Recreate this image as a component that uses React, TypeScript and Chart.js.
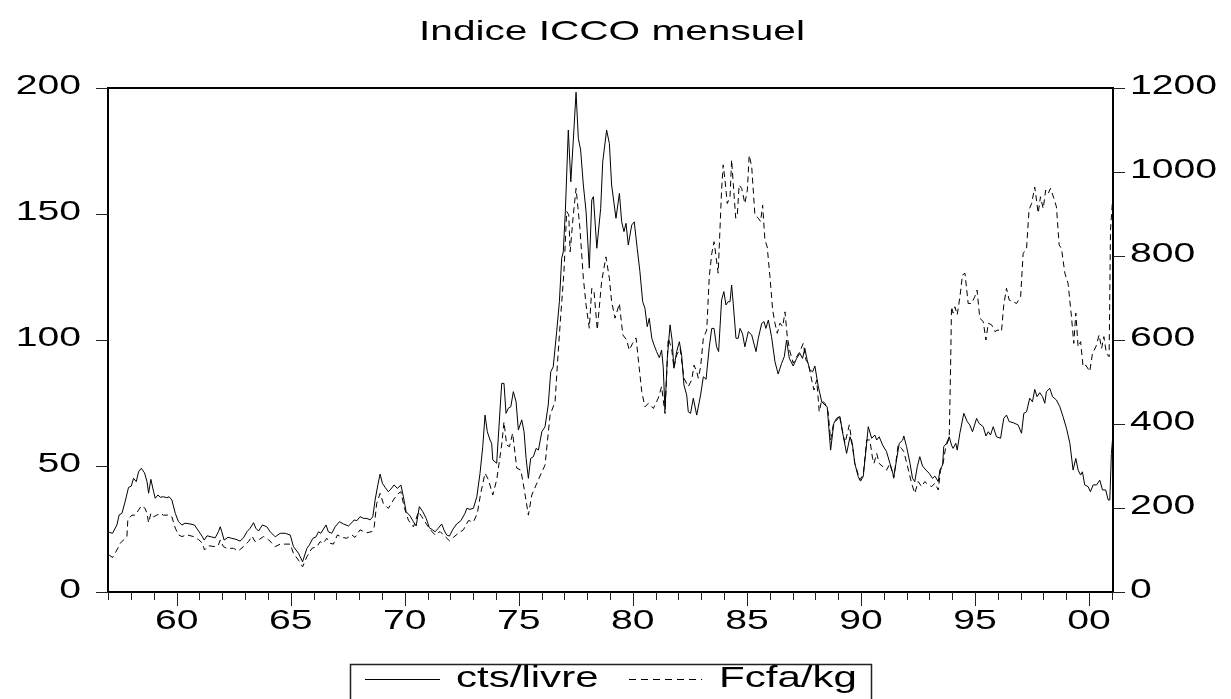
import React, { useEffect, useRef } from "react";
import { Chart, registerables } from "chart.js";

Chart.register(...registerables);

const chartTitle = "Indice ICCO mensuel";
const seriesNames = ["cts/livre", "Fcfa/kg"];

const leftTicks = [0, 50, 100, 150, 200];
const rightTicks = [0, 200, 400, 600, 800, 1000, 1200];
const majorYears = [1960, 1965, 1970, 1975, 1980, 1985, 1990, 1995, 2000];
const majorYearLabels = ["60", "65", "70", "75", "80", "85", "90", "95", "00"];
const firstYear = 1957;
const lastYear = 2001;

const ctsYears = [
  1957.04, 1957.19, 1957.38, 1957.48, 1957.6, 1957.74, 1957.89, 1958.01, 1958.11, 1958.23, 1958.33, 1958.45, 1958.59, 1958.7, 1958.77, 1958.87, 1958.99,
  1959.06, 1959.18, 1959.28, 1959.42, 1959.57, 1959.67, 1959.79, 1959.94, 1960.08, 1960.23, 1960.37, 1960.59, 1960.78, 1960.93, 1961.11, 1961.21,
  1961.33, 1961.51, 1961.69, 1961.83, 1961.91, 1961.98, 1962.08, 1962.25, 1962.42, 1962.6, 1962.78, 1962.93, 1963.08, 1963.22, 1963.37, 1963.47,
  1963.59, 1963.76, 1963.95, 1964.1, 1964.32, 1964.54, 1964.76, 1964.98, 1965.12, 1965.34, 1965.52, 1965.71, 1965.82, 1965.97, 1966.11, 1966.22,
  1966.32, 1966.41, 1966.55, 1966.65, 1966.8, 1966.95, 1967.14, 1967.31, 1967.53, 1967.68, 1967.78, 1967.9, 1968.04, 1968.19, 1968.34, 1968.48,
  1968.6, 1968.7, 1968.82, 1968.92, 1969.02, 1969.14, 1969.28, 1969.39, 1969.53, 1969.68, 1969.83, 1969.94, 1970.06, 1970.23, 1970.38, 1970.5,
  1970.64, 1970.79, 1970.94, 1971.08, 1971.23, 1971.33, 1971.47, 1971.62, 1971.72, 1971.84, 1971.96, 1972.11, 1972.28, 1972.46, 1972.64, 1972.72,
  1972.86, 1973.01, 1973.16, 1973.3, 1973.42, 1973.52, 1973.62, 1973.74, 1973.81, 1973.86, 1974.03, 1974.25, 1974.35, 1974.44, 1974.54, 1974.65,
  1974.76, 1974.88, 1974.98, 1975.13, 1975.23, 1975.32, 1975.42, 1975.52, 1975.64, 1975.76, 1975.86, 1976.01, 1976.15, 1976.29, 1976.4, 1976.51,
  1976.66, 1976.78, 1976.88, 1976.95, 1977.04, 1977.17, 1977.28, 1977.39, 1977.51, 1977.61, 1977.71, 1977.83, 1977.95, 1978.09, 1978.2, 1978.27,
  1978.42, 1978.59, 1978.68, 1978.85, 1978.97, 1979.07, 1979.26, 1979.41, 1979.51, 1979.61, 1979.7, 1979.8, 1979.95, 1980.06, 1980.19, 1980.31,
  1980.43, 1980.53, 1980.63, 1980.72, 1980.83, 1980.93, 1981.04, 1981.16, 1981.26, 1981.33, 1981.41, 1981.51, 1981.63, 1981.72, 1981.8, 1981.92,
  1982.04, 1982.14, 1982.24, 1982.36, 1982.43, 1982.53, 1982.65, 1982.8, 1982.97, 1983.09, 1983.21, 1983.35, 1983.46, 1983.56, 1983.67, 1983.76,
  1983.89, 1983.99, 1984.08, 1984.18, 1984.26, 1984.33, 1984.4, 1984.52, 1984.62, 1984.7, 1984.81, 1984.91, 1985.06, 1985.21, 1985.4, 1985.5,
  1985.65, 1985.75, 1985.83, 1985.94, 1986.08, 1986.23, 1986.37, 1986.52, 1986.64, 1986.74, 1986.86, 1987.03, 1987.18, 1987.32, 1987.44, 1987.54,
  1987.64, 1987.76, 1987.88, 1987.98, 1988.13, 1988.28, 1988.42, 1988.52, 1988.67, 1988.81, 1988.93, 1989.08, 1989.2, 1989.37, 1989.52, 1989.63,
  1989.73, 1989.88, 1989.98, 1990.1, 1990.22, 1990.32, 1990.47, 1990.61, 1990.69, 1990.8, 1990.95, 1991.12, 1991.27, 1991.44, 1991.56, 1991.68,
  1991.83, 1991.88, 1992.0, 1992.15, 1992.26, 1992.36, 1992.47, 1992.58, 1992.7, 1992.85, 1992.99, 1993.14, 1993.24, 1993.39, 1993.46, 1993.58,
  1993.63, 1993.75, 1993.87, 1993.97, 1994.04, 1994.16, 1994.22, 1994.34, 1994.51, 1994.66, 1994.77, 1994.89, 1995.07, 1995.18, 1995.36, 1995.48,
  1995.58, 1995.68, 1995.8, 1995.94, 1996.12, 1996.26, 1996.38, 1996.5, 1996.67, 1996.89, 1997.04, 1997.14, 1997.26, 1997.4, 1997.52, 1997.62,
  1997.72, 1997.84, 1997.96, 1998.06, 1998.13, 1998.28, 1998.4, 1998.57, 1998.72, 1998.86, 1999.01, 1999.16, 1999.3, 1999.42, 1999.52, 1999.63,
  1999.71, 1999.81, 1999.96, 2000.06, 2000.18, 2000.33, 2000.47, 2000.59, 2000.73, 2000.84, 2000.91, 2000.98, 2001.04,
];
const ctsValues = [
  23.7, 23.3, 26.6, 30.6, 31.2, 35.8, 41.5, 42.0, 45.1, 43.8, 47.7, 49.1, 47.3, 43.8, 39.2, 44.7, 39.8,
  37.2, 38.5, 37.6, 37.8, 37.4, 37.8, 36.5, 31.2, 27.9, 26.6, 27.3, 27.0, 26.6, 24.6, 22.2, 20.6,
  22.3, 21.9, 21.5, 23.9, 25.9, 23.9, 20.6, 21.7, 21.3, 20.9, 20.2, 21.5, 23.9, 25.3, 27.5, 25.3,
  24.2, 26.6, 25.9, 23.9, 21.9, 23.3, 23.3, 22.6, 18.0, 15.4, 12.0, 17.3, 18.7, 21.3, 21.9, 23.9,
  23.3, 24.6, 26.6, 23.9, 23.3, 25.9, 27.9, 27.0, 26.2, 27.5, 28.6, 28.3, 29.9, 29.2, 29.2, 28.6,
  29.9, 36.5, 42.5, 46.8, 43.1, 41.5, 39.8, 40.8, 42.5, 41.1, 42.5, 37.8, 31.9, 30.2, 27.9, 26.2,
  33.9, 31.9, 29.2, 25.5, 24.6, 23.9, 25.3, 27.0, 24.6, 22.6, 22.2, 24.9, 27.0, 28.3, 31.2, 33.2,
  32.8, 33.2, 37.8, 47.1, 57.7, 70.2, 63.6, 60.3, 59.0, 52.4, 51.1, 82.8, 82.8, 70.9, 72.9, 73.5,
  79.5, 75.5, 64.3, 68.3, 63.6, 53.0, 45.1, 53.0, 53.7, 57.0, 56.3, 63.6, 65.6, 74.2, 87.4, 89.4,
  103.3, 115.2, 132.4, 135.0, 150.9, 183.3, 162.8, 179.4, 198.3, 180.0, 175.4, 161.5, 150.9, 128.5, 155.6, 156.9,
  136.4, 152.3, 170.8, 183.3, 178.0, 161.5, 148.3, 158.2, 146.9, 143.0, 146.3, 137.7, 145.6, 146.9, 136.4, 127.1,
  115.2, 112.6, 105.3, 108.6, 100.7, 98.0, 95.4, 93.0, 96.0, 89.4, 72.2, 92.7, 106.0, 100.0, 88.8, 95.4,
  99.3, 94.0, 82.1, 78.2, 71.5, 70.9, 76.9, 70.2, 78.2, 85.4, 84.4, 97.3, 104.6, 104.6, 97.3, 95.4,
  115.9, 119.2, 113.9, 115.2, 115.2, 121.8, 114.6, 100.7, 100.7, 104.6, 102.4, 97.3, 103.3, 102.0, 95.4, 100.7,
  106.6, 107.3, 104.6, 107.9, 101.3, 91.4, 86.5, 90.7, 93.4, 100.0, 92.7, 89.7, 92.7, 94.7, 92.7, 96.7,
  92.1, 88.1, 87.4, 89.7, 81.5, 75.5, 74.2, 73.5, 56.3, 66.9, 68.9, 69.6, 63.0, 55.0, 61.6, 58.3,
  51.1, 45.8, 44.0, 45.8, 56.3, 65.6, 61.0, 62.3, 60.3, 61.6, 58.3, 55.7, 51.1, 45.8, 52.4, 59.0,
  60.3, 61.9, 57.7, 51.1, 45.1, 43.8, 49.7, 53.7, 50.0, 48.4, 47.1, 45.1, 46.0, 43.8, 48.4, 50.4,
  57.7, 59.0, 61.6, 58.3, 57.0, 59.0, 56.3, 63.2, 70.9, 67.6, 66.3, 63.6, 68.9, 66.9, 65.6, 61.9,
  63.6, 62.3, 65.6, 61.6, 61.0, 68.9, 70.2, 67.6, 67.2, 66.3, 63.0, 70.9, 71.5, 76.9, 75.5, 80.4,
  77.5, 79.1, 77.5, 74.9, 79.5, 80.8, 77.5, 76.2, 73.5, 69.6, 65.0, 59.0, 48.4, 53.0, 48.4, 46.4,
  47.7, 42.5, 41.8, 39.8, 42.5, 42.5, 44.4, 40.5, 40.5, 36.5, 36.5, 55.0, 61.6,
];

const fcfaYears = [
  1957.04, 1957.19, 1957.38, 1957.53, 1957.67, 1957.82, 1957.86, 1958.04, 1958.18, 1958.33, 1958.45, 1958.62, 1958.7, 1958.77, 1958.87, 1958.99,
  1959.13, 1959.28, 1959.42, 1959.64, 1959.79, 1959.94, 1960.08, 1960.23, 1960.45, 1960.74, 1960.96, 1961.13, 1961.22, 1961.4, 1961.69, 1961.83,
  1961.91, 1962.05, 1962.2, 1962.49, 1962.71, 1962.93, 1963.15, 1963.3, 1963.44, 1963.59, 1963.81, 1964.02, 1964.32, 1964.54, 1964.76, 1964.98,
  1965.12, 1965.34, 1965.52, 1965.71, 1965.93, 1966.15, 1966.29, 1966.43, 1966.58, 1966.73, 1966.87, 1967.05, 1967.24, 1967.46, 1967.68, 1967.82,
  1968.04, 1968.19, 1968.34, 1968.56, 1968.66, 1968.77, 1968.92, 1969.06, 1969.28, 1969.5, 1969.68, 1969.83, 1969.97, 1970.16, 1970.38, 1970.6,
  1970.75, 1970.97, 1971.19, 1971.33, 1971.55, 1971.77, 1971.96, 1972.13, 1972.35, 1972.57, 1972.79, 1973.01, 1973.18, 1973.33, 1973.52, 1973.67,
  1973.86, 1974.03, 1974.25, 1974.35, 1974.47, 1974.59, 1974.73, 1974.91, 1975.09, 1975.23, 1975.42, 1975.57, 1975.76, 1976.01, 1976.15, 1976.37,
  1976.59, 1976.69, 1976.81, 1976.98, 1977.1, 1977.19, 1977.25, 1977.39, 1977.51, 1977.68, 1977.83, 1977.95, 1978.09, 1978.2, 1978.3, 1978.44,
  1978.63, 1978.82, 1978.97, 1979.07, 1979.22, 1979.41, 1979.56, 1979.73, 1979.84, 1979.99, 1980.14, 1980.28, 1980.39, 1980.53, 1980.68, 1980.9,
  1981.11, 1981.26, 1981.41, 1981.55, 1981.7, 1981.8, 1981.92, 1982.07, 1982.24, 1982.43, 1982.58, 1982.68, 1982.8, 1982.87, 1982.97, 1983.09,
  1983.24, 1983.35, 1983.46, 1983.56, 1983.64, 1983.74, 1983.89, 1983.96, 1984.04, 1984.14, 1984.26, 1984.33, 1984.4, 1984.51, 1984.58, 1984.66,
  1984.77, 1984.91, 1985.02, 1985.1, 1985.21, 1985.35, 1985.5, 1985.6, 1985.69, 1985.79, 1985.89, 1986.01, 1986.13, 1986.23, 1986.33, 1986.45,
  1986.57, 1986.67, 1986.77, 1986.89, 1987.03, 1987.18, 1987.32, 1987.47, 1987.59, 1987.69, 1987.84, 1987.94, 1988.06, 1988.17, 1988.28, 1988.42,
  1988.56, 1988.67, 1988.81, 1988.96, 1989.05, 1989.15, 1989.3, 1989.49, 1989.59, 1989.73, 1989.95, 1990.1, 1990.25, 1990.39, 1990.51, 1990.57,
  1990.69, 1990.8, 1990.97, 1991.12, 1991.27, 1991.44, 1991.63, 1991.78, 1991.88, 1992.03, 1992.22, 1992.36, 1992.51, 1992.66, 1992.8, 1992.95,
  1993.1, 1993.24, 1993.39, 1993.49, 1993.6, 1993.72, 1993.87, 1993.93, 1993.97, 1994.04, 1994.12, 1994.22, 1994.34, 1994.45, 1994.56, 1994.7,
  1994.85, 1994.99, 1995.09, 1995.21, 1995.36, 1995.48, 1995.58, 1995.73, 1995.87, 1996.01, 1996.16, 1996.26, 1996.38, 1996.5, 1996.67, 1996.82,
  1997.0, 1997.11, 1997.26, 1997.37, 1997.48, 1997.62, 1997.77, 1997.87, 1997.99, 1998.1, 1998.21, 1998.31, 1998.46, 1998.57, 1998.69, 1998.79,
  1998.94, 1999.08, 1999.23, 1999.33, 1999.42, 1999.52, 1999.63, 1999.74, 1999.86, 2000.03, 2000.15, 2000.3, 2000.44, 2000.55, 2000.65, 2000.76,
  2000.88, 2000.94, 2001.04,
];
const fcfaValues = [
  88, 82, 100, 116, 124, 132, 173, 183, 183, 195, 205, 199, 187, 165, 187, 179,
  183, 187, 183, 183, 179, 152, 136, 132, 136, 132, 125, 116, 100, 110, 108, 112,
  124, 108, 104, 104, 98, 108, 120, 133, 120, 124, 132, 125, 108, 114, 114, 114,
  92, 76, 60, 84, 104, 108, 120, 116, 128, 116, 114, 136, 130, 128, 136, 130,
  148, 144, 141, 144, 155, 211, 235, 211, 199, 219, 233, 239, 203, 171, 155, 191,
  179, 160, 144, 136, 144, 132, 122, 130, 140, 148, 170, 167, 187, 235, 283, 267,
  231, 267, 350, 405, 350, 346, 378, 295, 290, 247, 183, 231, 255, 286, 302, 421,
  453, 540, 636, 763, 906, 898, 810, 898, 961, 866, 747, 683, 628, 723, 715, 624,
  739, 798, 747, 691, 652, 687, 612, 600, 576, 592, 605, 533, 477, 441, 449, 437,
  461, 489, 425, 604, 580, 533, 564, 580, 509, 489, 505, 540, 525, 509, 536, 604,
  624, 751, 806, 834, 802, 759, 957, 1017, 981, 925, 941, 1029, 973, 890, 898, 969,
  961, 925, 957, 1040, 1013, 898, 890, 882, 921, 838, 822, 751, 671, 640, 616, 640,
  632, 667, 608, 572, 545, 560, 572, 592, 552, 545, 505, 481, 505, 429, 457, 449,
  429, 362, 405, 410, 421, 394, 354, 398, 362, 306, 267, 279, 362, 362, 318, 306,
  330, 306, 298, 290, 306, 271, 350, 342, 334, 302, 259, 235, 263, 251, 263, 255,
  251, 259, 243, 290, 306, 346, 366, 536, 679, 664, 679, 660, 703, 755, 759, 687,
  687, 703, 719, 652, 644, 600, 640, 636, 620, 624, 620, 683, 723, 695, 691, 687,
  703, 806, 818, 910, 925, 964, 902, 941, 913, 957, 949, 961, 937, 917, 826, 818,
  759, 735, 655, 592, 664, 584, 596, 536, 540, 525, 568, 584, 612, 580, 608, 568,
  560, 862, 941,
];

const FONT = '"Liberation Sans", Arial, Helvetica, sans-serif';
const STRETCH = 1.45;

function stretchedText(
  ctx: CanvasRenderingContext2D,
  text: string,
  x: number,
  y: number,
  align: CanvasTextAlign,
  size: number
) {
  ctx.save();
  ctx.font = `${size}px ${FONT}`;
  ctx.fillStyle = "#000";
  ctx.textAlign = align;
  ctx.textBaseline = "middle";
  ctx.translate(x, y);
  ctx.scale(STRETCH, 1);
  ctx.fillText(text, 0, 0);
  ctx.restore();
}

const decorPlugin = {
  id: "eviewsDecor",
  afterDraw(chart: any) {
    const { ctx, chartArea, scales } = chart;
    const { left, right, top, bottom } = chartArea;
    const xs = scales.x;
    const yl = scales.y;
    const yr = scales.y1;

    ctx.save();
    ctx.strokeStyle = "#000";
    ctx.lineWidth = 2;
    ctx.strokeRect(left, top, right - left, bottom - top);

    ctx.strokeStyle = "#222";
    ctx.lineWidth = 1;
    ctx.beginPath();
    leftTicks.forEach((v) => {
      const y = Math.round(yl.getPixelForValue(v)) + 0.5;
      ctx.moveTo(left - 12, y);
      ctx.lineTo(left, y);
    });
    rightTicks.forEach((v) => {
      const y = Math.round(yr.getPixelForValue(v)) + 0.5;
      ctx.moveTo(right, y);
      ctx.lineTo(right + 12, y);
    });
    for (let yr0 = firstYear; yr0 <= lastYear; yr0++) {
      const x = Math.round(xs.getPixelForValue(yr0)) + 0.5;
      const len = majorYears.includes(yr0) ? 14 : 8;
      ctx.moveTo(x, bottom);
      ctx.lineTo(x, bottom + len);
    }
    ctx.stroke();
    ctx.restore();

    leftTicks.forEach((v) => {
      stretchedText(ctx, String(v), 81, yl.getPixelForValue(v) - 1, "right", 27);
    });
    rightTicks.forEach((v) => {
      stretchedText(ctx, String(v), 1130, yr.getPixelForValue(v) - 1, "left", 27);
    });
    majorYears.forEach((yv, i) => {
      stretchedText(ctx, majorYearLabels[i], xs.getPixelForValue(yv), 622, "center", 27);
    });

    stretchedText(ctx, chartTitle, 612, 32, "center", 28);

    // legend, centred under the plot area
    const boxLeft = 350;
    const boxRight = left + right - boxLeft;
    ctx.save();
    ctx.strokeStyle = "#222";
    ctx.lineWidth = 1.5;
    ctx.strokeRect(boxLeft + 0.5, 664.5, boxRight - boxLeft, 60);
    ctx.strokeStyle = "#000";
    ctx.lineWidth = 1;
    ctx.beginPath();
    ctx.moveTo(365, 679.5);
    ctx.lineTo(440, 679.5);
    ctx.stroke();
    ctx.setLineDash([7, 5]);
    ctx.beginPath();
    ctx.moveTo(629, 679.5);
    ctx.lineTo(702, 679.5);
    ctx.stroke();
    ctx.restore();
    stretchedText(ctx, seriesNames[0], 456, 679, "left", 29);
    stretchedText(ctx, seriesNames[1], 719, 679, "left", 29);
  },
};

export default function App() {
  const canvasRef = useRef<HTMLCanvasElement | null>(null);

  useEffect(() => {
    const canvas = canvasRef.current;
    if (!canvas) return;
    const ctsData = ctsYears.map((x, i) => ({ x, y: ctsValues[i] }));
    const fcfaData = fcfaYears.map((x, i) => ({ x, y: fcfaValues[i] }));
    const chart = new Chart(canvas, {
      type: "line",
      data: {
        datasets: [
          {
            label: seriesNames[0],
            data: ctsData,
            yAxisID: "y",
            borderColor: "#000",
            borderWidth: 1,
            pointRadius: 0,
            tension: 0,
            fill: false,
          },
          {
            label: seriesNames[1],
            data: fcfaData,
            yAxisID: "y1",
            borderColor: "#000",
            borderWidth: 1,
            borderDash: [6, 4],
            pointRadius: 0,
            tension: 0,
            fill: false,
          },
        ],
      },
      options: {
        animation: false,
        responsive: false,
        devicePixelRatio: 1,
        events: [],
        layout: { padding: { left: 108, top: 88, right: 118, bottom: 107 } },
        plugins: {
          legend: { display: false },
          title: { display: false },
          tooltip: { enabled: false },
        },
        scales: {
          x: { type: "linear", min: 1956.99, max: 2001.05, display: false },
          y: { type: "linear", min: 0, max: 200, display: false, position: "left" },
          y1: { type: "linear", min: 0, max: 1200, display: false, position: "right" },
        },
      },
      plugins: [decorPlugin],
    });
    return () => chart.destroy();
  }, []);

  return (
    <div style={{ position: "absolute", left: 0, top: 0, width: 1231, height: 699, background: "#fff" }}>
      <canvas ref={canvasRef} width={1231} height={699} style={{ display: "block" }} />
    </div>
  );
}
